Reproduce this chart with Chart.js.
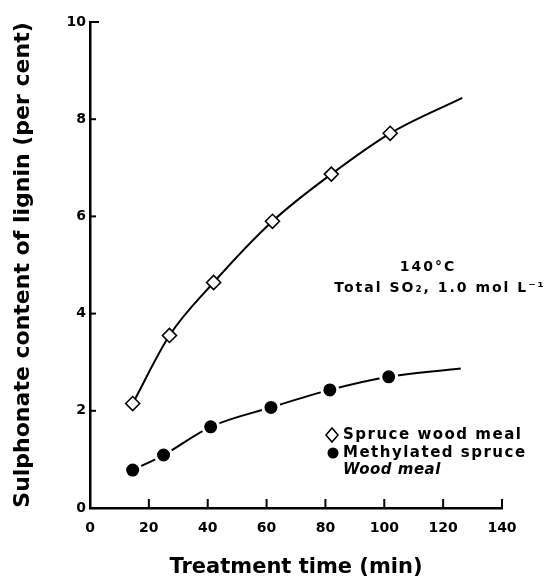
<!DOCTYPE html>
<html>
<head>
<meta charset="utf-8">
<script src="https://cdn.jsdelivr.net/npm/chart.js@4"></script>
<style>
  html, body { margin: 0; padding: 0; background: #fff; }
  #wrap { width: 546px; height: 581px; }
</style>
</head>
<body>
<div id="wrap"><canvas id="sulphonateChart" width="546" height="581"></canvas></div>
<script>
// treatment time (min) and sulphonate content (%); the last entry of each
// series is where the drawn curve ends, it has no marker
const spruceTime = [14.5, 27, 42, 62, 82, 102, 126.5];
const spruceSulphonate = [2.15, 3.55, 4.64, 5.9, 6.87, 7.71, 8.44];
const methylTime = [14.5, 25, 41, 61.5, 81.5, 101.5, 126];
const methylSulphonate = [0.78, 1.09, 1.67, 2.07, 2.43, 2.7, 2.87];

const xTicks = [0, 20, 40, 60, 80, 100, 120, 140];
const yTicks = [0, 2, 4, 6, 8, 10];

const legendLabels = ['Spruce wood meal', 'Methylated spruce', 'Wood meal'];
const conditionLabels = ['140°C', 'Total SO\u2082, 1.0 mol L\u207B\u00B9'];

const FONT = 'DejaVu Sans';

function toPoints(xs, ys) {
    return xs.map((x, i) => ({ x: x, y: ys[i] }));
}

// markers on every point except the curve end
function markerRadii(xs, r) {
    return xs.map((x, i) => (i === xs.length - 1 ? 0 : r));
}

// ticks pointing into the plot instead of outward
const innerTicks = {
    id: 'innerTicks',
    afterDraw(chart) {
        const ctx = chart.ctx;
        const { left, bottom } = chart.chartArea;
        const xs = chart.scales.x;
        const ys = chart.scales.y;
        ctx.save();
        ctx.strokeStyle = '#000';
        ctx.lineWidth = 2;
        xTicks.forEach(v => {
            if (v === 0) return;
            const px = xs.getPixelForValue(v);
            ctx.beginPath();
            ctx.moveTo(px, bottom);
            ctx.lineTo(px, bottom - 9);
            ctx.stroke();
        });
        yTicks.forEach(v => {
            if (v === 0) return;
            const py = ys.getPixelForValue(v);
            ctx.beginPath();
            ctx.moveTo(left, py);
            ctx.lineTo(left + (v === 10 ? 9 : 6), py);
            ctx.stroke();
        });
        ctx.restore();
    }
};

// conditions text and the key in the lower right of the plot
const notes = {
    id: 'notes',
    afterDraw(chart) {
        const ctx = chart.ctx;
        const { right, bottom } = chart.chartArea;
        ctx.save();
        ctx.fillStyle = '#000';
        ctx.textBaseline = 'middle';

        ctx.font = 'bold 14px "' + FONT + '"';
        ctx.letterSpacing = '2px';
        ctx.textAlign = 'center';
        ctx.fillText(conditionLabels[0], right - 74, bottom - 241);
        ctx.fillText(conditionLabels[1], right - 62, bottom - 220);

        // key symbols
        const kx = right - 170;
        ctx.lineWidth = 1.6;
        ctx.strokeStyle = '#000';
        ctx.beginPath();
        ctx.moveTo(kx, bottom - 80);
        ctx.lineTo(kx + 6, bottom - 73);
        ctx.lineTo(kx, bottom - 66);
        ctx.lineTo(kx - 6, bottom - 73);
        ctx.closePath();
        ctx.stroke();
        ctx.beginPath();
        ctx.arc(kx + 1, bottom - 55, 5.5, 0, Math.PI * 2);
        ctx.fill();

        ctx.textAlign = 'left';
        ctx.letterSpacing = '1.5px';
        ctx.font = 'bold 15px "' + FONT + '"';
        ctx.fillText(legendLabels[0], kx + 11, bottom - 73);
        ctx.fillText(legendLabels[1], kx + 11, bottom - 55);
        ctx.letterSpacing = '0.5px';
        ctx.font = 'italic bold 15px "' + FONT + '"';
        ctx.fillText(legendLabels[2], kx + 11, bottom - 38);
        ctx.restore();
    }
};

const ctx = document.getElementById('sulphonateChart').getContext('2d');
new Chart(ctx, {
    type: 'line',
    data: {
        datasets: [
            {
                label: 'Spruce wood meal',
                data: toPoints(spruceTime, spruceSulphonate),
                borderColor: '#000',
                borderWidth: 2,
                cubicInterpolationMode: 'monotone',
                pointStyle: 'rectRot',
                pointRadius: markerRadii(spruceTime, 7),
                pointBackgroundColor: '#fff',
                pointBorderColor: '#000',
                pointBorderWidth: 1.6
            },
            {
                label: 'Methylated spruce Wood meal',
                data: toPoints(methylTime, methylSulphonate),
                borderColor: '#000',
                borderWidth: 2,
                cubicInterpolationMode: 'monotone',
                pointStyle: 'circle',
                pointRadius: markerRadii(methylTime, 8),
                pointBackgroundColor: '#000',
                pointBorderColor: '#fff',
                pointBorderWidth: 3
            }
        ]
    },
    options: {
        responsive: false,
        animation: false,
        events: [],
        layout: { padding: { left: 0, right: 44, top: 22, bottom: 0 } },
        plugins: {
            legend: { display: false },
            tooltip: { enabled: false }
        },
        scales: {
            x: {
                type: 'linear',
                min: 0,
                max: 140,
                afterFit(scale) { scale.height = 73; },
                afterBuildTicks(scale) { scale.ticks = xTicks.map(v => ({ value: v })); },
                grid: { display: true, drawOnChartArea: false, drawTicks: false },
                border: { display: true, color: '#000', width: 2.5 },
                ticks: {
                    color: '#000',
                    padding: 12,
                    maxRotation: 0,
                    font: { family: FONT, size: 14, weight: 'bold' }
                },
                title: {
                    display: true,
                    text: 'Treatment time (min)',
                    color: '#000',
                    padding: { top: 0, bottom: 1 },
                    font: { family: FONT, size: 21, weight: 'bold' }
                }
            },
            y: {
                min: 0,
                max: 10,
                afterFit(scale) { scale.width = 90; },
                afterBuildTicks(scale) { scale.ticks = yTicks.map(v => ({ value: v })); },
                grid: { display: true, drawOnChartArea: false, drawTicks: false },
                border: { display: true, color: '#000', width: 2.5 },
                ticks: {
                    color: '#000',
                    padding: 4,
                    font: { family: FONT, size: 14, weight: 'bold' }
                },
                title: {
                    display: true,
                    text: 'Sulphonate content of lignin (per cent)',
                    color: '#000',
                    padding: { top: 10, bottom: 0 },
                    font: { family: FONT, size: 22, weight: 'bold' }
                }
            }
        }
    },
    plugins: [innerTicks, notes]
});
</script>
</body>
</html>
